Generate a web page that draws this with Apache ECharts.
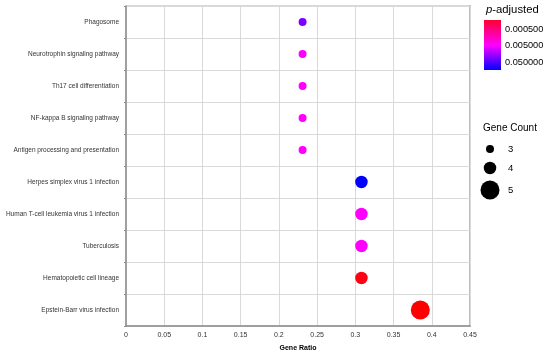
<!DOCTYPE html>
<html><head><meta charset="utf-8">
<script src="https://cdn.jsdelivr.net/npm/echarts@6/dist/echarts.min.js"></script>
<style>html,body{margin:0;padding:0;background:#fff}#c{width:550px;height:352px}</style>
</head><body><div id="c"></div>
<script>
const categories = ['Phagosome','Neurotrophin signaling pathway','Th17 cell differentiation','NF-kappa B signaling pathway','Antigen processing and presentation','Herpes simplex virus 1 infection','Human T-cell leukemia virus 1 infection','Tuberculosis','Hematopoietic cell lineage','Epstein-Barr virus infection'];
const geneRatio = [0.231,0.231,0.231,0.231,0.231,0.308,0.308,0.308,0.308,0.385];
const geneCount = [3,3,3,3,3,4,4,4,4,5];
const pAdjusted = [0.016,0.0052,0.005,0.005,0.005,0.05,0.005,0.005,0.0006,0.0005];
const xTicks = ['0','0.05','0.1','0.15','0.2','0.25','0.3','0.35','0.4','0.45'];
const pLegendLabels = ['0.000500','0.005000','0.050000'];
const countLegend = [3,4,5];

const sizeByCount = {3:8,4:12.5,5:19};
const font = 'Liberation Sans, Arial, sans-serif';
const data = categories.map((c,i)=>[geneRatio[i], i, geneCount[i], -Math.log10(pAdjusted[i])]);

const chart = echarts.init(document.getElementById('c'));
const graphic = [
  {type:'rect', shape:{x:484,y:20,width:17,height:50},
   style:{fill:new echarts.graphic.LinearGradient(0,0,0,1,[{offset:0,color:'#ff0030'},{offset:0.5,color:'#ff00ff'},{offset:1,color:'#0000ff'}])}},
  {type:'text', left:486, top:4, style:{text:'{i|p}-adjusted', font:'11.3px '+font, fill:'#000',
    rich:{i:{fontStyle:'italic', fontSize:11.3, fontFamily:font}}}},
  {type:'text', left:483, top:123, style:{text:'Gene Count', font:'10px '+font, fill:'#000'}}
];
pLegendLabels.forEach((t,k)=>graphic.push({type:'text', left:505, top:24.5+k*16.5, style:{text:t, font:'9.2px '+font, fill:'#000'}}));
const cy=[149,168,190];
countLegend.forEach((c,k)=>{
  graphic.push({type:'circle', shape:{cx:490, cy:cy[k], r:sizeByCount[c]/2}, style:{fill:'#000'}});
  graphic.push({type:'text', left:508, top:cy[k]-5, style:{text:String(c), font:'9.5px '+font, fill:'#000'}});
});
graphic.push({type:'line', shape:{x1:470,y1:5,x2:470,y2:327}, style:{stroke:'#bdbdbd', lineWidth:2}});

chart.setOption({
  animation:false,
  grid:{left:126,right:80,top:6,bottom:26, show:true, borderColor:'#b0b0b0', borderWidth:1,
    containLabel:false, outerBoundsMode:'none'},
  xAxis:{type:'value', min:0, max:0.45, interval:0.05,
    name:'Gene Ratio', nameLocation:'middle', nameGap:19,
    nameTextStyle:{fontSize:7, fontWeight:'bold', fontFamily:font, color:'#000'},
    axisLine:{show:true, lineStyle:{color:'#8c8c8c', width:1.5}},
    axisTick:{show:false},
    axisLabel:{fontSize:7, fontFamily:font, color:'#333', margin:6, showMaxLabel:true,
      formatter:(v)=>{const k=Math.round(v/0.05); return xTicks[k];}},
    splitLine:{show:true, lineStyle:{color:'#d9d9d9', width:1}}},
  yAxis:{type:'category', data:categories, inverse:true,
    axisLine:{show:true, lineStyle:{color:'#8c8c8c', width:1.5}},
    axisTick:{show:true, length:2, lineStyle:{color:'#8c8c8c'}},
    axisLabel:{fontSize:6.5, fontFamily:font, color:'#333', margin:7},
    splitLine:{show:true, lineStyle:{color:'#d9d9d9', width:1}}},
  visualMap:{show:false, type:'continuous', dimension:3, min:-Math.log10(0.05), max:-Math.log10(0.0005),
    inRange:{color:['#0000ff','#ff00ff','#ff0000']}},
  graphic:graphic,
  series:[{type:'scatter', data:data, symbolSize:(v)=>sizeByCount[v[2]], itemStyle:{opacity:1}}]
});
</script></body></html>
